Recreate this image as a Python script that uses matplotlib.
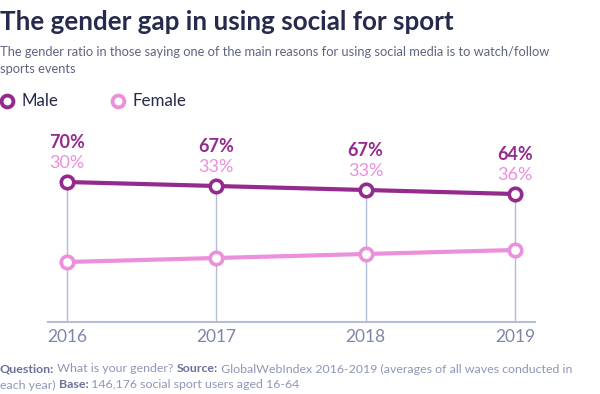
import matplotlib
matplotlib.use("Agg")
import matplotlib.pyplot as plt

years = [2016, 2017, 2018, 2019]
male = [70, 67, 67, 64]
female = [30, 33, 33, 36]
male_pos = [70, 68, 66, 64]
female_pos = [30, 32, 34, 36]
year_labels = ["2016", "2017", "2018", "2019"]

MALE_C = "#952a8e"
FEMALE_C = "#ec90dc"
NAVY = "#262a4c"
GREY = "#5f6480"
AXIS_C = "#b4bcd8"
TICK_C = "#7f86a8"
FOOT_BOLD = "#6a719a"
FOOT_C = "#8f96b8"

plt.rcParams['font.family'] = ['Lato', 'DejaVu Sans']

W, H = 600, 394
fig = plt.figure(figsize=(6, 3.94), dpi=100)

def fx(px):
    return px / W

def fy(py):
    return 1 - py / H

ax = fig.add_axes([fx(48), fy(322), fx(535) - fx(48), fy(130) - fy(322)])
x0, x1 = 2016 - 19 / 149.3, 2019 + 20 / 149.3
ax.set_xlim(x0, x1)
ax.set_ylim(0, 96)
for s in ["top", "right", "left"]:
    ax.spines[s].set_visible(False)
ax.spines["bottom"].set_color(AXIS_C)
ax.spines["bottom"].set_linewidth(1.5)
ax.set_yticks([])
ax.set_xticks(years)
ax.set_xticklabels(year_labels, fontsize=12.5, color=TICK_C)
ax.tick_params(axis="x", length=0, pad=5)

ax.vlines(years, 0, male_pos, color=AXIS_C, lw=1, zorder=1)
ax.plot(years, male_pos, color=MALE_C, lw=3, marker="o", ms=9, mfc="white",
        mec=MALE_C, mew=2.6, zorder=3, clip_on=False)
ax.plot(years, female_pos, color=FEMALE_C, lw=3, marker="o", ms=9, mfc="white",
        mec=FEMALE_C, mew=2.6, zorder=3, clip_on=False)

for x, mp, m, f in zip(years, male_pos, male, female):
    ax.annotate(f"{m}%", (x, mp), xytext=(0, 28.5), textcoords="offset points",
                ha="center", va="center", fontsize=13, fontweight="bold", color=MALE_C)
    ax.annotate(f"{f}%", (x, mp), xytext=(0, 14), textcoords="offset points",
                ha="center", va="center", fontsize=13, color=FEMALE_C)

fig.text(fx(0), fy(22), "The gender gap in using social for sport", fontsize=18.7,
         fontweight="bold", color=NAVY, va="center", ha="left")
fig.text(fx(0), fy(52), "The gender ratio in those saying one of the main reasons for using social media is to watch/follow",
         fontsize=9.3, color=GREY, va="center", ha="left")
fig.text(fx(0), fy(69), "sports events", fontsize=9.3, color=GREY, va="center", ha="left")

# legend
fig.lines.append(plt.Line2D([fx(7)], [fy(101)], marker="o", ms=8.5, mfc="white", mec=MALE_C,
                            mew=2.8, transform=fig.transFigure, figure=fig))
fig.lines.append(plt.Line2D([fx(118)], [fy(101)], marker="o", ms=8.5, mfc="white", mec=FEMALE_C,
                            mew=2.8, transform=fig.transFigure, figure=fig))
fig.text(fx(21), fy(101), "Male", fontsize=12.2, color=NAVY, va="center", ha="left")
fig.text(fx(133), fy(101), "Female", fontsize=12.2, color=NAVY, va="center", ha="left")

# footer with mixed bold
renderer = fig.canvas.get_renderer()
def rich_line(parts, px, py):
    x = px
    for txt, bold in parts:
        t = fig.text(fx(x), fy(py), txt, fontsize=8.95, va="center", ha="left",
                     color=FOOT_BOLD if bold else FOOT_C,
                     fontweight="bold" if bold else "normal")
        bb = t.get_window_extent(renderer=renderer)
        x += bb.width

rich_line([("Question:", True), (" What is your gender? ", False), ("Source:", True),
           (" GlobalWebIndex 2016-2019 (averages of all waves conducted in", False)], 0, 369)
rich_line([("each year) ", False), ("Base:", True), (" 146,176 social sport users aged 16-64", False)], 0, 385)

fig.savefig("out.png", dpi=100)
